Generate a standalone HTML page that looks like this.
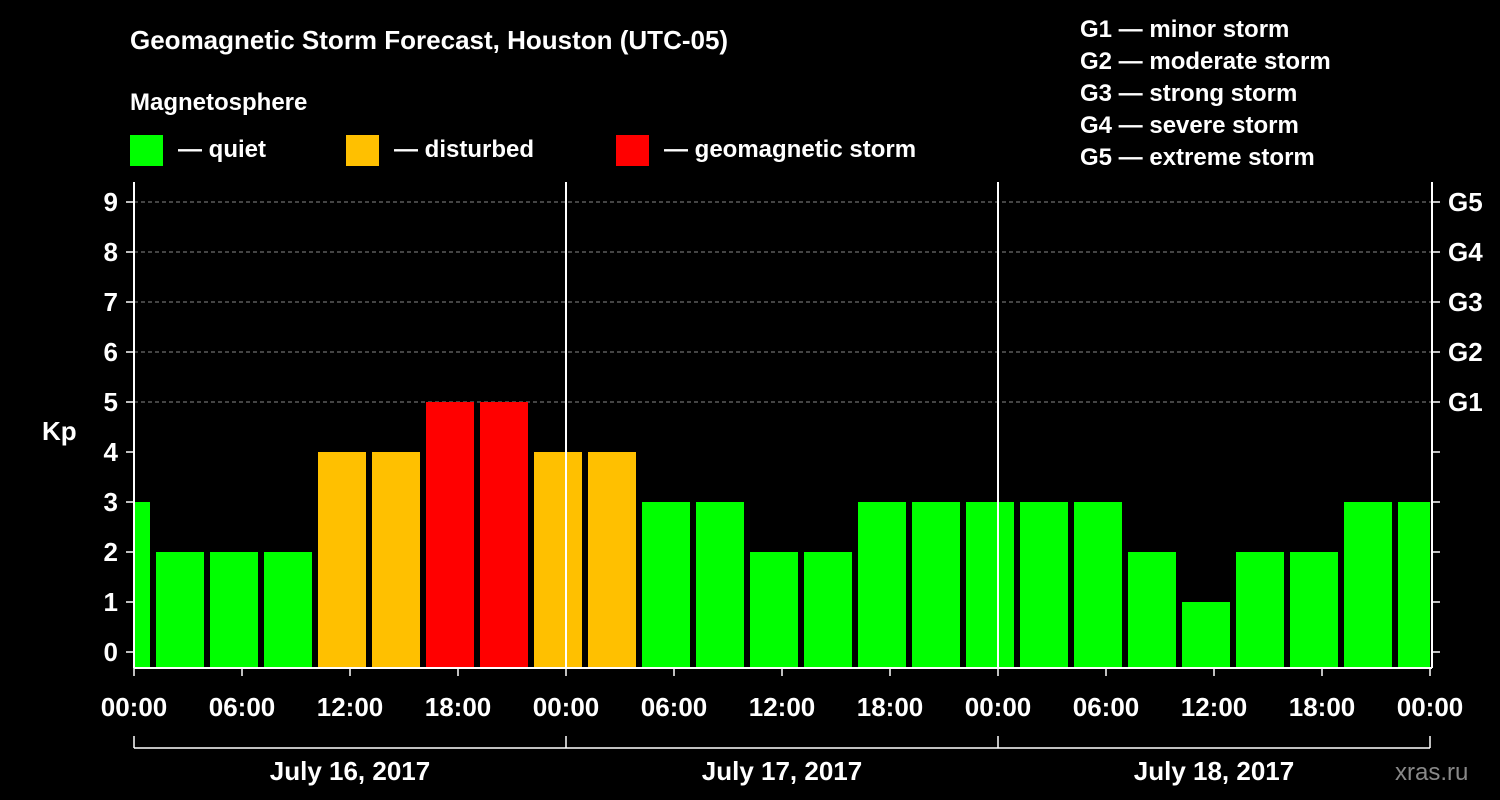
<!DOCTYPE html>
<html><head><meta charset="utf-8"><style>
html,body{margin:0;padding:0;background:#000;}
svg{display:block;font-family:"Liberation Sans",Arial,sans-serif;font-weight:bold;}
</style></head><body>
<svg width="1500" height="800" viewBox="0 0 1500 800">
<rect width="1500" height="800" fill="#000"/>
<text x="130" y="49" fill="#fff" font-size="26">Geomagnetic Storm Forecast, Houston (UTC-05)</text>
<text x="130" y="110" fill="#fff" font-size="24">Magnetosphere</text>
<rect x="130" y="135" width="33" height="31" fill="#00ff00"/>
<text x="178" y="157" fill="#fff" font-size="24">— quiet</text>
<rect x="346" y="135" width="33" height="31" fill="#ffc000"/>
<text x="394" y="157" fill="#fff" font-size="24">— disturbed</text>
<rect x="616" y="135" width="33" height="31" fill="#ff0000"/>
<text x="664" y="157" fill="#fff" font-size="24">— geomagnetic storm</text>
<g fill="#fff" font-size="24">
<text x="1080" y="37">G1 — minor storm</text>
<text x="1080" y="69">G2 — moderate storm</text>
<text x="1080" y="101">G3 — strong storm</text>
<text x="1080" y="133">G4 — severe storm</text>
<text x="1080" y="165">G5 — extreme storm</text>
</g>
<text x="42" y="440" fill="#fff" font-size="26">Kp</text>
<text x="1395" y="780" fill="#888" font-size="24" font-weight="normal">xras.ru</text>
<g id="plot"></g>
</svg>
<script>
const kpValues=[3,2,2,2,4,4,5,5,4,4,3,3,2,2,3,3,3,3,3,2,1,2,2,3,3];
const barStartHours=[-2,1,4,7,10,13,16,19,22,25,28,31,34,37,40,43,46,49,52,55,58,61,64,67,70];
const yTicks=[0,1,2,3,4,5,6,7,8,9];
const gLabels=["G1","G2","G3","G4","G5"];
const gLevels=[5,6,7,8,9];
const xTickLabels=["00:00","06:00","12:00","18:00","00:00","06:00","12:00","18:00","00:00","06:00","12:00","18:00","00:00"];
const dayLabels=["July 16, 2017","July 17, 2017","July 18, 2017"];
const X0=134,X1=1430,HOURS=72;
const xs=h=>X0+(X1-X0)*h/HOURS;
const ys=v=>652-50*v;
const NS="http://www.w3.org/2000/svg";
const g=document.getElementById('plot');
function mk(t,a,p){const e=document.createElementNS(NS,t);for(const k in a)e.setAttribute(k,a[k]);(p||g).appendChild(e);return e;}
function col(v){return v>=5?"#ff0000":v>=4?"#ffc000":"#00ff00";}
// grid
gLevels.forEach((v,i)=>{
 const l=mk('line',{x1:X0,x2:1432,y1:ys(v),y2:ys(v),stroke:"#888","stroke-dasharray":"4,3","stroke-width":1});
 
 
 const t=mk('text',{x:1448,y:ys(v)+9,fill:"#fff","font-size":26});
 t.textContent=gLabels[i];
 
 
});
// bars
kpValues.forEach((v,i)=>{
 const s=barStartHours[i];
 let a=xs(s)+4,b=xs(s+3)-2;
 if(a<X0+1)a=X0+1; if(b>X1)b=X1;
 const r=mk('rect',{x:a,y:ys(v),width:b-a,height:668-ys(v),fill:col(v)});
 
 
});
// axes
const ax=[[X0,182,X0,668],[X0,668,1432,668],[1432,182,1432,668],[xs(24),182,xs(24),668],[xs(48),182,xs(48),668]];
ax.forEach(c=>{const l=mk('line',{x1:c[0],y1:c[1],x2:c[2],y2:c[3],stroke:"#fff","stroke-width":2});
 
 });
yTicks.forEach(v=>{
 mk('line',{x1:126,x2:X0,y1:ys(v),y2:ys(v),stroke:"#fff","stroke-width":1.5});
 mk('line',{x1:1432,x2:1440,y1:ys(v),y2:ys(v),stroke:"#fff","stroke-width":1.5});
 const t=mk('text',{x:118,y:ys(v)+9,fill:"#fff","font-size":26,"text-anchor":"end"});
 t.textContent=v;
 
 
});
xTickLabels.forEach((s,i)=>{
 const x=xs(i*6);
 mk('line',{x1:x,x2:x,y1:668,y2:676,stroke:"#fff","stroke-width":1.5});
 const t=mk('text',{x:x,y:716,fill:"#fff","font-size":26,"text-anchor":"middle"});
 t.textContent=s;
 
 
});
mk('line',{x1:X0,x2:X1,y1:748,y2:748,stroke:"#fff","stroke-width":1.5});
[0,24,48,72].forEach(h=>mk('line',{x1:xs(h),x2:xs(h),y1:736,y2:748,stroke:"#fff","stroke-width":1.5}));
dayLabels.forEach((s,i)=>{
 const t=mk('text',{x:xs(i*24+12),y:780,fill:"#fff","font-size":26,"text-anchor":"middle"});
 t.textContent=s;
 
 
});
</script>
</body></html>
